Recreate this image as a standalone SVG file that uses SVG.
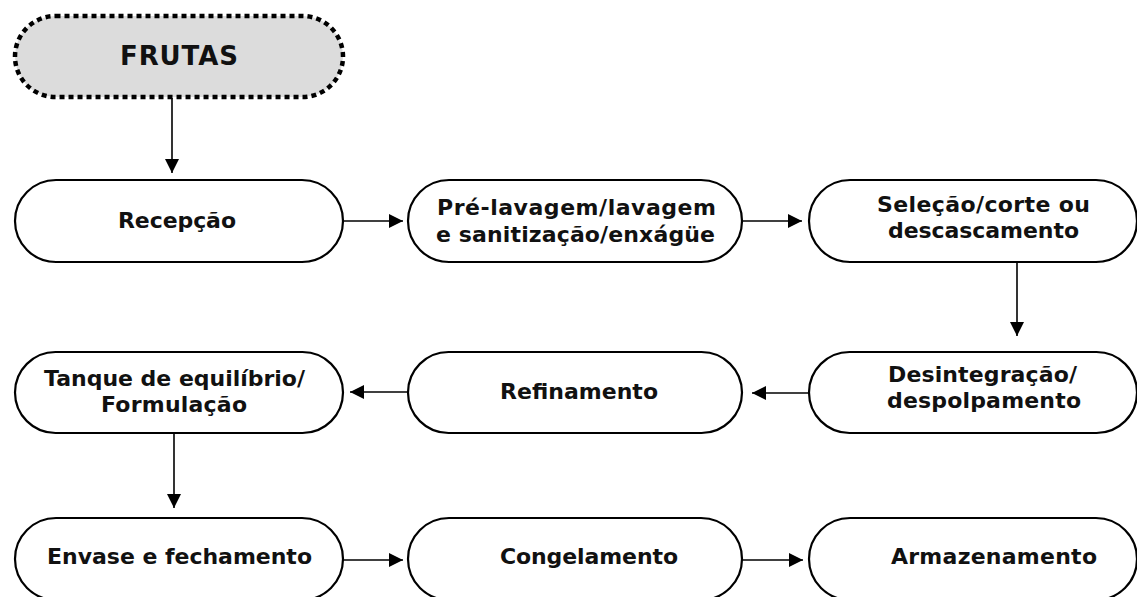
<svg xmlns="http://www.w3.org/2000/svg" width="1137" height="597" viewBox="0 0 1137 597">
<style>
.n{fill:#fff;stroke:#000;stroke-width:2.2}
.start{fill:#dcdcdc;stroke:#000;stroke-width:4.5;stroke-dasharray:5 4}
.t{font-family:"DejaVu Sans","Verdana",sans-serif;font-weight:bold;font-size:22px;fill:#111;text-anchor:middle}
.c{stroke:#000;stroke-width:1.6;fill:none;marker-end:url(#ah)}
</style>
<defs>
<marker id="ah" markerUnits="userSpaceOnUse" markerWidth="15" markerHeight="15" refX="14" refY="7" orient="auto"><path d="M0,0 L14,7 L0,14 z" fill="#000"/></marker>
</defs>
<rect width="1137" height="597" fill="#fff"/>
<g id="connectors">
<line class="c" x1="172" y1="98" x2="172" y2="173"/>
<line class="c" x1="343" y1="221" x2="403" y2="221"/>
<line class="c" x1="742" y1="221" x2="802" y2="221"/>
<line class="c" x1="1017" y1="262" x2="1017" y2="336"/>
<line class="c" x1="809" y1="393" x2="752" y2="393"/>
<line class="c" x1="408" y1="392" x2="350" y2="392"/>
<line class="c" x1="174" y1="433" x2="174" y2="508"/>
<line class="c" x1="343" y1="560" x2="403" y2="560"/>
<line class="c" x1="742" y1="560" x2="803" y2="560"/>
</g>
<g id="frutas"><rect class="start" x="15" y="16" width="328" height="81" rx="40.5"/><text class="t" x="179" y="65" style="font-size:26px" textLength="118">FRUTAS</text></g>
<g id="recepcao"><rect class="n" x="15" y="180" width="328" height="82" rx="41"/><text class="t" x="177" y="228" textLength="118">Recepção</text></g>
<g id="lavagem"><rect class="n" x="408" y="180" width="334" height="82" rx="41"/><text class="t" x="576.5" y="215" textLength="279">Pré-lavagem/lavagem</text><text class="t" x="575.5" y="242" textLength="279">e sanitização/enxágüe</text></g>
<g id="selecao"><rect class="n" x="809" y="180" width="328" height="82" rx="41"/><text class="t" x="983.5" y="212" textLength="213">Seleção/corte ou</text><text class="t" x="983.5" y="238" textLength="191">descascamento</text></g>
<g id="tanque"><rect class="n" x="15" y="352" width="328" height="81" rx="40.5"/><text class="t" x="174.5" y="386" textLength="261">Tanque de equilíbrio/</text><text class="t" x="174" y="412" textLength="146">Formulação</text></g>
<g id="refinamento"><rect class="n" x="408" y="352" width="334" height="81" rx="40.5"/><text class="t" x="579" y="399" textLength="158">Refinamento</text></g>
<g id="desintegracao"><rect class="n" x="809" y="352" width="328" height="81" rx="40.5"/><text class="t" x="982.5" y="382" textLength="189">Desintegração/</text><text class="t" x="984" y="408" textLength="194">despolpamento</text></g>
<g id="envase"><rect class="n" x="15" y="518" width="328" height="82" rx="41"/><text class="t" x="179.5" y="564" textLength="265">Envase e fechamento</text></g>
<g id="congelamento"><rect class="n" x="408" y="518" width="334" height="82" rx="41"/><text class="t" x="589" y="564" textLength="178">Congelamento</text></g>
<g id="armazenamento"><rect class="n" x="809" y="518" width="328" height="82" rx="41"/><text class="t" x="994" y="564" textLength="206">Armazenamento</text></g>
</svg>
